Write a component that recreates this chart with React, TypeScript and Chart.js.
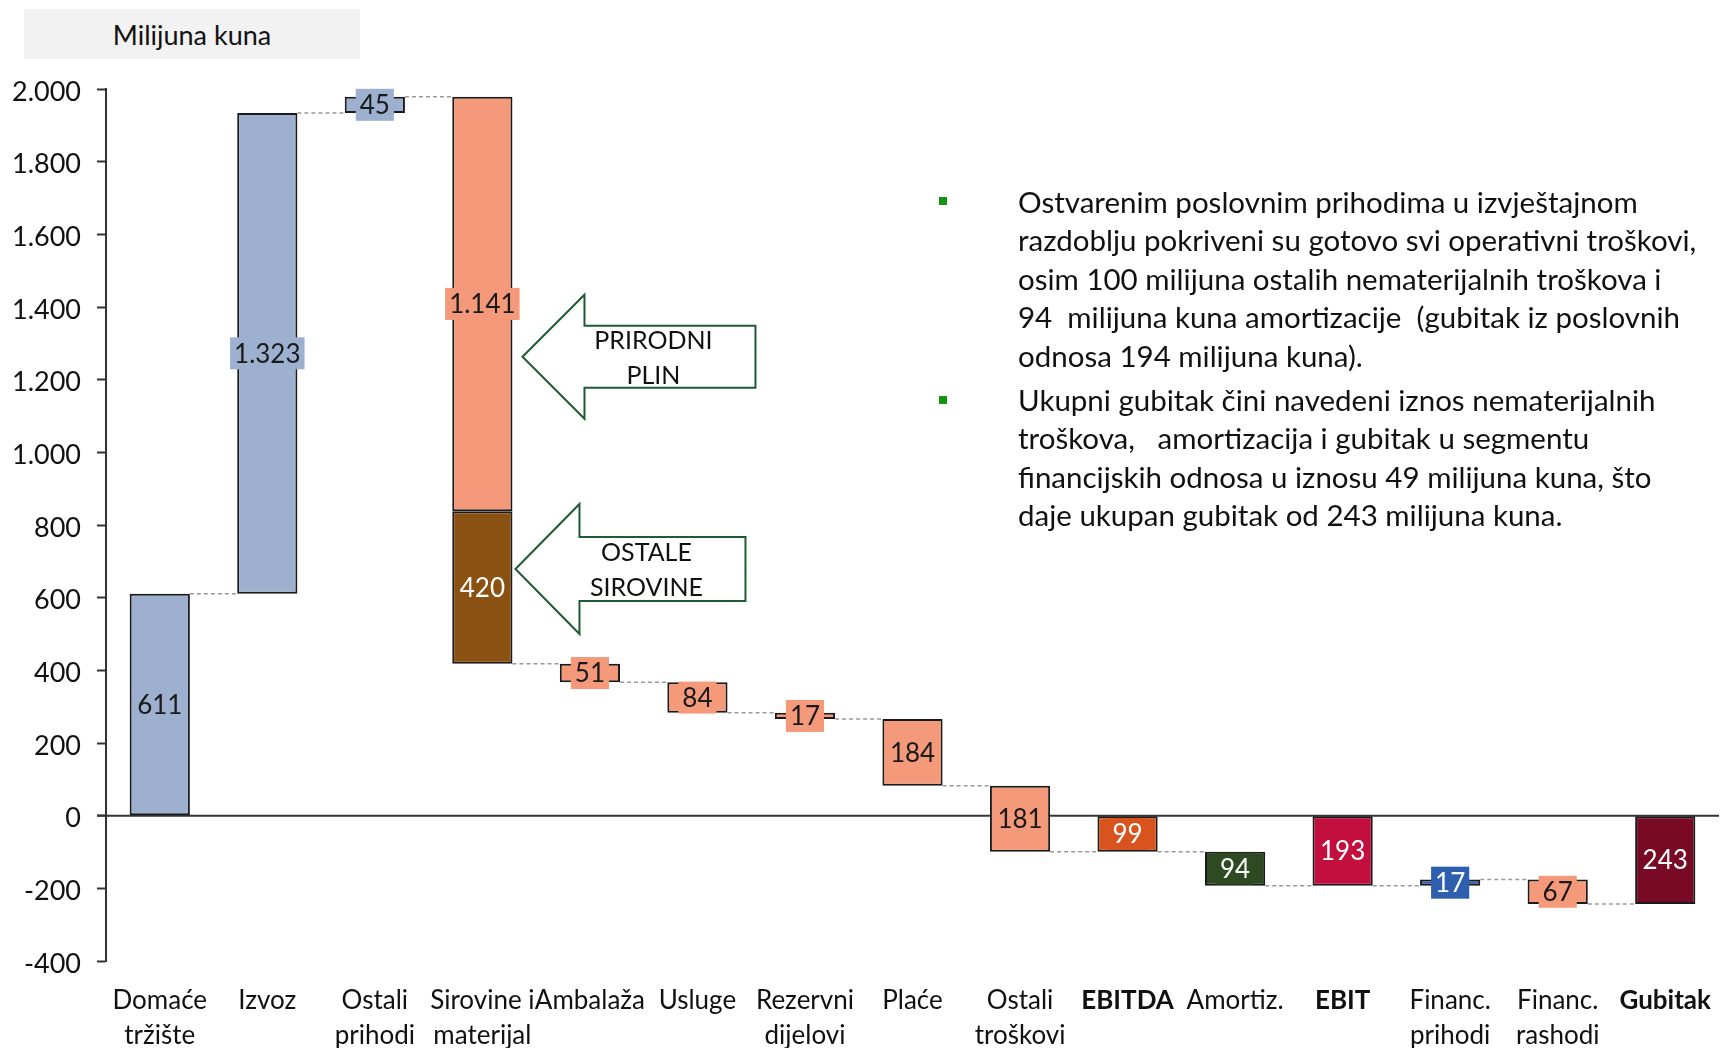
import React, { useEffect, useRef } from "react";
import { Chart, registerables } from "chart.js";

Chart.register(...registerables);

const categories: string[][] = [
  ["Domaće", "tržište"],
  ["Izvoz"],
  ["Ostali", "prihodi"],
  ["Sirovine i", "materijal"],
  ["Ambalaža"],
  ["Usluge"],
  ["Rezervni", "dijelovi"],
  ["Plaće"],
  ["Ostali", "troškovi"],
  ["EBITDA"],
  ["Amortiz."],
  ["EBIT"],
  ["Financ.", "prihodi"],
  ["Financ.", "rashodi"],
  ["Gubitak"],
];

// magnitudes shown on the bars (for index 3: natural gas part)
const amounts = [611, 1323, 45, 1141, 51, 84, 17, 184, 181, 99, 94, 193, 17, 67, 243];
const kinds = ["up", "up", "up", "down", "down", "down", "down", "down", "down", "total", "down", "total", "up", "down", "total"];
const ostaleSirovineIndex = 3;
const ostaleSirovine = 420;

const barColors = [
  "#9DB0CF", "#9DB0CF", "#9DB0CF", "#F4997A", "#F4997A", "#F4997A", "#F4997A", "#F4997A",
  "#F4997A", "#D9531E", "#2D4A22", "#C30F3E", "#2E5FAE", "#F4997A", "#780A25",
];
const brownColor = "#8B5112";
const labelColors = [
  "#1a1a1a", "#1a1a1a", "#1a1a1a", "#1a1a1a", "#1a1a1a", "#1a1a1a", "#1a1a1a", "#1a1a1a",
  "#1a1a1a", "#ffffff", "#ffffff", "#ffffff", "#ffffff", "#1a1a1a", "#ffffff",
];
const boldCategories = ["EBITDA", "EBIT", "Gubitak"];

const yMin = -400;
const yMax = 2000;
const yStep = 200;

const arrowNotes = [
  { lines: ["PRIRODNI", "PLIN"], value: 1263, tipOffset: 10, headDx: 62, headDy: 62, shaftDy: 31, length: 233, textDx: 131 },
  { lines: ["OSTALE", "SIROVINE"], value: 679, tipOffset: 3, headDx: 64, headDy: 65, shaftDy: 32, length: 230, textDx: 131 },
];

const paragraph1 = [
  "Ostvarenim poslovnim prihodima u izvještajnom",
  "razdoblju pokriveni su gotovo svi operativni troškovi,",
  "osim 100 milijuna ostalih nematerijalnih troškova i",
  "94  milijuna kuna amortizacije  (gubitak iz poslovnih",
  "odnosa 194 milijuna kuna).",
];
const paragraph2 = [
  "Ukupni gubitak čini navedeni iznos nematerijalnih",
  "troškova,   amortizacija i gubitak u segmentu",
  "financijskih odnosa u iznosu 49 milijuna kuna, što",
  "daje ukupan gubitak od 243 milijuna kuna.",
];

const FONT = "Lato, 'Open Sans', sans-serif";

function fmt(n: number): string {
  const s = Math.abs(Math.round(n)).toString().replace(/\B(?=(\d{3})+(?!\d))/g, ".");
  return (n < 0 ? "-" : "") + s;
}

function buildRanges() {
  let level = 0;
  const ranges: [number, number][] = [];
  const brown: ([number, number] | null)[] = [];
  const ends: number[] = [];
  amounts.forEach((a, i) => {
    brown.push(null);
    if (kinds[i] === "up") {
      ranges.push([level, level + a]);
      level += a;
    } else if (kinds[i] === "down") {
      ranges.push([level - a, level]);
      level -= a;
      if (i === ostaleSirovineIndex) {
        brown[i] = [level - ostaleSirovine, level];
        level -= ostaleSirovine;
      }
    } else {
      ranges.push([Math.min(0, -a), Math.max(0, -a)]);
      level = -a;
    }
    ends.push(level);
  });
  return { ranges, brown, ends };
}

export default function App() {
  const canvasRef = useRef<HTMLCanvasElement | null>(null);

  useEffect(() => {
    const canvas = canvasRef.current;
    if (!canvas) return;
    const { ranges, brown, ends } = buildRanges();

    const waterfallPlugin = {
      id: "waterfallExtras",
      beforeDatasetsDraw(chart: any) {
        const { ctx, chartArea, scales } = chart;
        const y0 = scales.y.getPixelForValue(0);
        ctx.save();
        ctx.strokeStyle = "#333";
        ctx.lineWidth = 2;
        ctx.beginPath();
        ctx.moveTo(chartArea.left - 9, y0);
        ctx.lineTo(chartArea.right, y0);
        ctx.stroke();
        const meta = chart.getDatasetMeta(0);
        ctx.strokeStyle = "#9a9a9a";
        ctx.lineWidth = 1.5;
        ctx.setLineDash([4, 3]);
        for (let i = 0; i < ends.length - 1; i++) {
          const a = meta.data[i];
          const b = meta.data[i + 1];
          const yy = scales.y.getPixelForValue(ends[i]);
          ctx.beginPath();
          ctx.moveTo(a.x + a.width / 2, yy);
          ctx.lineTo(b.x - b.width / 2, yy);
          ctx.stroke();
        }
        ctx.restore();
      },
      afterDatasetsDraw(chart: any) {
        const { ctx, scales } = chart;
        ctx.save();
        ctx.setLineDash([]);
        const drawLabel = (el: any, text: string, bg: string, fg: string) => {
          const cy = (el.y + el.base) / 2;
          ctx.font = `26px ${FONT}`;
          const w = ctx.measureText(text).width + 8;
          const h = 32;
          ctx.fillStyle = bg;
          ctx.fillRect(el.x - w / 2, cy - h / 2, w, h);
          ctx.fillStyle = fg;
          ctx.textAlign = "center";
          ctx.textBaseline = "middle";
          ctx.fillText(text, el.x, cy + 1);
        };
        const meta0 = chart.getDatasetMeta(0);
        meta0.data.forEach((el: any, i: number) => {
          drawLabel(el, fmt(amounts[i]), barColors[i], labelColors[i]);
        });
        const meta1 = chart.getDatasetMeta(1);
        const be = meta1.data[ostaleSirovineIndex];
        if (be) drawLabel(be, fmt(ostaleSirovine), brownColor, "#ffffff");

        const bar = meta0.data[ostaleSirovineIndex];
        arrowNotes.forEach((n) => {
          const tx = bar.x + bar.width / 2 + n.tipOffset;
          const ty = scales.y.getPixelForValue(n.value);
          ctx.beginPath();
          ctx.moveTo(tx, ty);
          ctx.lineTo(tx + n.headDx, ty - n.headDy);
          ctx.lineTo(tx + n.headDx, ty - n.shaftDy);
          ctx.lineTo(tx + n.length, ty - n.shaftDy);
          ctx.lineTo(tx + n.length, ty + n.shaftDy);
          ctx.lineTo(tx + n.headDx, ty + n.shaftDy);
          ctx.lineTo(tx + n.headDx, ty + n.headDy);
          ctx.closePath();
          ctx.fillStyle = "#ffffff";
          ctx.fill();
          ctx.strokeStyle = "#1E5B32";
          ctx.lineWidth = 2;
          ctx.stroke();
          ctx.fillStyle = "#111";
          ctx.font = `25px ${FONT}`;
          ctx.textAlign = "center";
          ctx.textBaseline = "middle";
          ctx.fillText(n.lines[0], tx + n.textDx, ty - 16);
          ctx.fillText(n.lines[1], tx + n.textDx, ty + 19);
        });
        ctx.restore();
      },
    };

    const chart = new Chart(canvas, {
      type: "bar",
      data: {
        labels: categories as any,
        datasets: [
          {
            data: ranges as any,
            backgroundColor: barColors,
            borderColor: "#1a1a1a",
            borderWidth: 2,
            borderSkipped: false,
            grouped: false,
            barPercentage: 0.56,
            categoryPercentage: 1,
          } as any,
          {
            data: brown as any,
            backgroundColor: brownColor,
            borderColor: "#1a1a1a",
            borderWidth: 2,
            borderSkipped: false,
            grouped: false,
            barPercentage: 0.56,
            categoryPercentage: 1,
          } as any,
        ],
      },
      options: {
        animation: false,
        responsive: false,
        maintainAspectRatio: false,
        layout: { padding: { top: 89, right: 2, left: 0, bottom: 0 } },
        plugins: { legend: { display: false }, tooltip: { enabled: false } },
        scales: {
          x: {
            grid: { display: false },
            border: { display: false },
            ticks: {
              autoSkip: false,
              maxRotation: 0,
              minRotation: 0,
              padding: 14,
              color: "#111",
              font: (c: any) => {
                const lbl = categories[c.index] ? categories[c.index][0] : "";
                return {
                  family: FONT,
                  size: 26,
                  lineHeight: 1.35,
                  weight: boldCategories.includes(lbl) ? "bold" : "normal",
                } as any;
              },
            },
            afterFit: (s: any) => {
              s.height = 87;
              s.paddingLeft = 0;
              s.paddingRight = 0;
            },
          } as any,
          y: {
            min: yMin,
            max: yMax,
            ticks: {
              stepSize: yStep,
              padding: 16,
              labelOffset: 3,
              color: "#111",
              font: { family: FONT, size: 27 },
              callback: (v: any) => fmt(Number(v)),
            },
            grid: {
              drawOnChartArea: false,
              drawTicks: true,
              tickLength: 9,
              tickColor: "#333",
              tickWidth: 2,
            },
            border: { display: true, color: "#333", width: 2 },
            afterFit: (s: any) => {
              s.width = 106;
              s.paddingTop = 0;
              s.paddingBottom = 0;
            },
          } as any,
        },
      },
      plugins: [waterfallPlugin],
    });
    return () => chart.destroy();
  }, []);

  const lineStyle: React.CSSProperties = {
    height: 38.4,
    lineHeight: "38.4px",
    whiteSpace: "pre",
  };
  const bullet = (top: number): React.CSSProperties => ({
    position: "absolute",
    left: 939,
    top,
    width: 8,
    height: 8,
    background: "#13950F",
  });

  return (
    <div style={{ position: "absolute", left: 0, top: 0, width: 1721, height: 1048, background: "#fff", fontFamily: FONT }}>
      <canvas ref={canvasRef} width={1721} height={1048} style={{ display: "block", width: 1721, height: 1048 }} />
      <div
        style={{
          position: "absolute",
          left: 24,
          top: 9,
          width: 336,
          height: 50,
          background: "#F2F2F2",
          display: "flex",
          alignItems: "center",
          justifyContent: "center",
          fontSize: 27,
          color: "#111",
        }}
      >
        Milijuna kuna
      </div>
      <div style={bullet(197)} />
      <div style={bullet(396)} />
      <div style={{ position: "absolute", left: 1018, top: 183, fontSize: 29.5, color: "#111" }}>
        {paragraph1.map((l, i) => (
          <div key={i} style={lineStyle}>{l}</div>
        ))}
      </div>
      <div style={{ position: "absolute", left: 1018, top: 381, fontSize: 29.5, color: "#111" }}>
        {paragraph2.map((l, i) => (
          <div key={i} style={lineStyle}>{l}</div>
        ))}
      </div>
    </div>
  );
}
